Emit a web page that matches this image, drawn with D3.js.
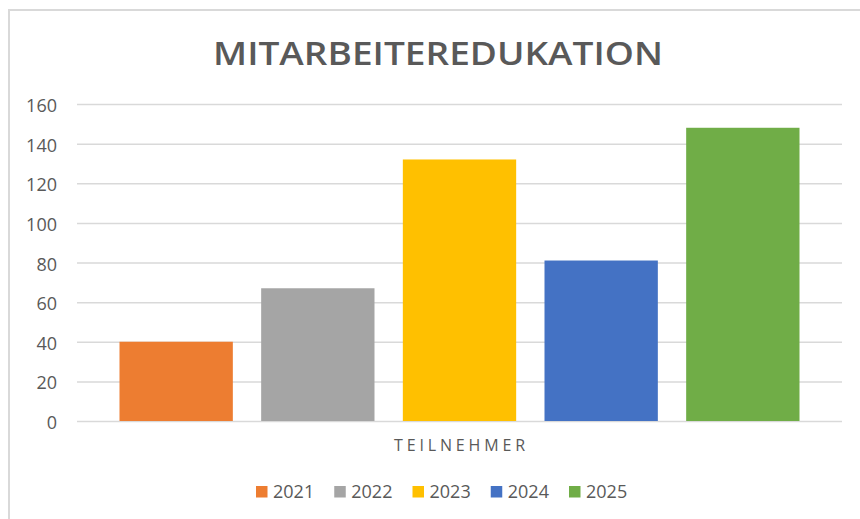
<!DOCTYPE html>
<html>
<head>
<meta charset="utf-8">
<script src="https://cdn.jsdelivr.net/npm/d3@7"></script>
<style>
  html, body { margin: 0; padding: 0; background: #fff; }
  svg { display: block; font-family: "Open Sans", sans-serif; }
</style>
</head>
<body>
<div id="chart"></div>
<script>
// chart data
const chartTitle = 'MITARBEITEREDUKATION';
const categoryLabel = 'TEILNEHMER';
const years = ['2021', '2022', '2023', '2024', '2025'];
const participants = [40, 67, 132, 81, 148];
const colors = ['#ED7D31', '#A5A5A5', '#FFC000', '#4472C4', '#70AD47'];
const yTicks = [0, 20, 40, 60, 80, 100, 120, 140, 160];

const width = 860, height = 519;
const plot = { left: 77, right: 842, top: 104, bottom: 421 };
const textColor = '#595959';
const gridColor = '#d9d9d9';

const svg = d3.select('#chart').append('svg')
  .attr('width', width)
  .attr('height', height);

// chart frame (right and bottom edges fall outside the window)
svg.append('rect')
  .attr('x', 9).attr('y', 10)
  .attr('width', 860).attr('height', 530)
  .attr('fill', '#fff')
  .attr('stroke', gridColor)
  .attr('stroke-width', 2);

const x = d3.scaleBand()
  .domain(years)
  .range([plot.left, plot.right])
  .paddingInner(0.2)
  .paddingOuter(0.3);

const y = d3.scaleLinear()
  .domain([0, 160])
  .range([plot.bottom, plot.top]);

// y axis + gridlines
const yAxis = svg.append('g')
  .attr('transform', `translate(${plot.left},0)`)
  .call(d3.axisLeft(y)
    .tickValues(yTicks)
    .tickSize(-(plot.right - plot.left))
    .tickPadding(20));

yAxis.select('.domain').remove();
yAxis.selectAll('.tick line')
  .attr('stroke', gridColor)
  .attr('stroke-width', 1.5);
yAxis.selectAll('.tick text')
  .attr('fill', textColor)
  .attr('font-size', 18)
  .attr('font-family', '"Open Sans", sans-serif')
  .attr('dy', '0.42em');

// bars
const bars = years.map((yr, i) => ({ year: yr, value: participants[i], color: colors[i] }));

svg.append('g')
  .selectAll('rect')
  .data(bars)
  .join('rect')
  .attr('x', d => x(d.year))
  .attr('y', d => y(d.value))
  .attr('width', x.bandwidth())
  .attr('height', d => y(0) - y(d.value))
  .attr('fill', d => d.color);

// title
svg.append('text')
  .attr('x', 438)
  .attr('y', 65)
  .attr('text-anchor', 'middle')
  .attr('font-size', 33)
  .attr('font-weight', 600)
  .attr('fill', textColor)
  .attr('textLength', 450)
  .attr('lengthAdjust', 'spacingAndGlyphs')
  .text(chartTitle);

// category label under the axis
svg.append('text')
  .attr('x', (plot.left + plot.right) / 2)
  .attr('y', 451)
  .attr('text-anchor', 'middle')
  .attr('font-size', 16)
  .attr('fill', textColor)
  .attr('textLength', 131)
  .attr('lengthAdjust', 'spacing')
  .text(categoryLabel);

// legend
const legendX = d3.scalePoint()
  .domain(years)
  .range([256, 569]);

const legend = svg.append('g')
  .selectAll('g')
  .data(bars)
  .join('g')
  .attr('transform', d => `translate(${legendX(d.year)},486)`);

legend.append('rect')
  .attr('width', 11.5)
  .attr('height', 11.5)
  .attr('fill', d => d.color);

legend.append('text')
  .attr('x', 17)
  .attr('y', 12)
  .attr('font-size', 18)
  .attr('fill', textColor)
  .text(d => d.year);
</script>
</body>
</html>
